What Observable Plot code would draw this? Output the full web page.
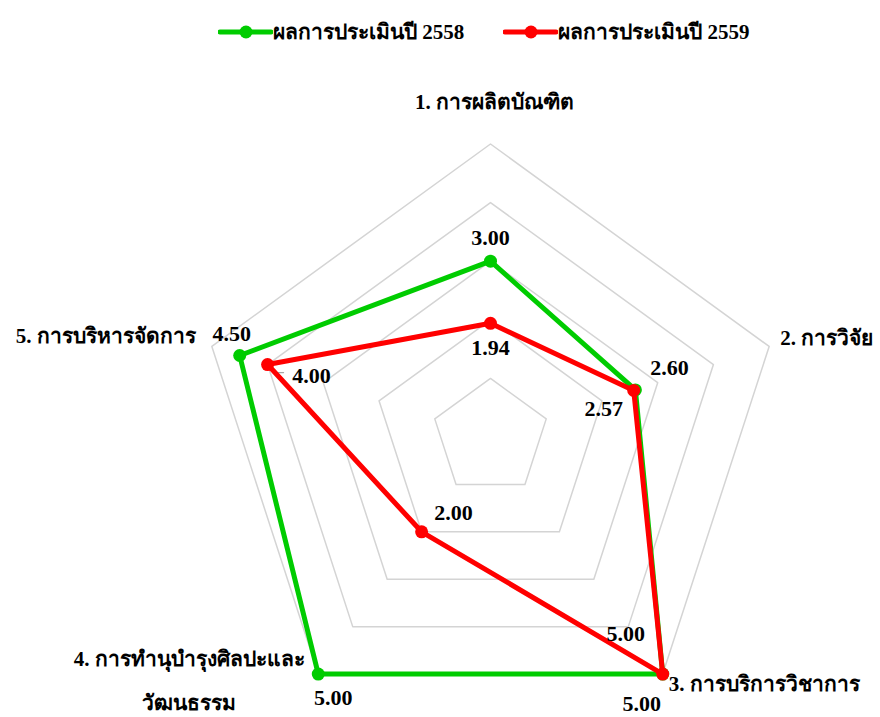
<!DOCTYPE html>
<html><head><meta charset="utf-8">
<script src="https://cdn.jsdelivr.net/npm/d3@7"></script>
<script src="https://cdn.jsdelivr.net/npm/@observablehq/plot@0.6"></script>
<style>
body{margin:0;background:#fff;font-family:"Liberation Serif",serif;}
#legend{height:60px;width:880px;box-sizing:border-box;padding-left:218px;padding-top:20px;display:flex;align-items:flex-start;}
.item{display:flex;align-items:center;height:24px;margin-right:39px;}
.item span{font-weight:bold;font-size:21px;line-height:24px;color:#000;}
</style></head><body>
<div id="legend"></div><div id="chart"></div>
<script>
const categories = ["1. การผลิตบัณฑิต", "2. การวิจัย", "3. การบริการวิชาการ", "4. การทำนุบำรุงศิลปะและ\nวัฒนธรรม", "5. การบริหารจัดการ"];
const seriesNames = ["ผลการประเมินปี 2558", "ผลการประเมินปี 2559"];
const values2558 = [3.00, 2.60, 5.00, 5.00, 4.50];
const values2559 = [1.94, 2.57, 5.00, 2.00, 4.00];
const gridLevels = [1, 2, 3, 4, 5];
const colors = ["#00cc00", "#ff0000"];

// label placement (pixel offsets)
const offs2558 = [[0,-23],[34,-22],[-21,30],[15,24],[-8,-22]];
const offs2559 = [[0,25],[-30,18],[-37,-40],[32,-19],[44,11]];

const U = 58.6;            // px per unit
const W = 880, H = 657;
const CX = 490, CY = 376.5;
const ang = i => i * 2 * Math.PI / categories.length;
const px = (r, i) => r * Math.sin(ang(i));
const py = (r, i) => r * Math.cos(ang(i));

// legend
const leg = document.getElementById("legend");
seriesNames.forEach((s, k) => {
  const d = document.createElement("div"); d.className = "item";
  d.innerHTML = `<svg width="55" height="14"><line x1="2" y1="7" x2="53" y2="7" stroke="${colors[k]}" stroke-width="5" stroke-linecap="round"/><circle cx="28" cy="7" r="6.5" fill="${colors[k]}"/></svg><span>${s}</span>`;
  leg.appendChild(d);
});

const grid = gridLevels.flatMap(l => categories.map((c, i) => ({level: l, x: px(l, i), y: py(l, i)})));
const rows = [];
[values2558, values2559].forEach((vals, k) => {
  const offs = k === 0 ? offs2558 : offs2559;
  vals.forEach((v, i) => rows.push({series: seriesNames[k], k, i, v, x: px(v, i), y: py(v, i), dx: offs[i][0], dy: offs[i][1]}));
});
const catRows = categories.map((c, i) => ({c, i, x: px(5, i), y: py(5, i)}));
const catStyle = [
  {dx: 4, dy: -49, anchor: "middle"},
  {dx: 11, dy: -16, anchor: "start"},
  {dx: 6, dy: 3, anchor: "start"},
  {dx: -129, dy: 0, anchor: "middle"},
  {dx: -16, dy: -18, anchor: "end"}
];
const red4 = rows.find(r => r.k === 1 && r.i === 4);
const leader = [
  {x: red4.x + 2/U, y: red4.y - 2/U},
  {x: red4.x + 7/U, y: red4.y - 8/U},
  {x: red4.x + 16/U, y: red4.y - 8/U}
];

const font = {fontFamily: "Liberation Serif, serif", fontWeight: "bold"};
const marks = [
  Plot.line(grid, {x: "x", y: "y", z: "level", curve: "linear-closed", stroke: "#d4d4d4", strokeWidth: 1.5}),
  Plot.line(leader, {x: "x", y: "y", stroke: "#a6a6a6", strokeWidth: 1.2})
];
[0, 1].forEach(k => {
  const d = rows.filter(r => r.k === k);
  marks.push(Plot.line(d, {x: "x", y: "y", curve: "linear-closed", stroke: colors[k], strokeWidth: 5, strokeLinejoin: "round"}));
  marks.push(Plot.dot(d, {x: "x", y: "y", r: 6.5, fill: colors[k], stroke: "none"}));
});
rows.forEach(r => {
  marks.push(Plot.text([r], {x: "x", y: "y", text: d => d.v.toFixed(2), dx: r.dx, dy: r.dy, fontSize: 22, fill: "#000", ...font}));
});
catRows.forEach((r, i) => {
  const s = catStyle[i];
  marks.push(Plot.text([r], {x: "x", y: "y", text: "c", dx: s.dx, dy: s.dy, textAnchor: s.anchor, lineAnchor: "middle", lineHeight: 2.1, fontSize: 21, fill: "#000", ...font}));
});

const chart = Plot.plot({
  width: W, height: H,
  margin: 0,
  x: {domain: [-CX / U, (W - CX) / U], range: [0, W], axis: null},
  y: {domain: [-(H - CY) / U, CY / U], range: [H, 0], axis: null},
  marks
});
document.getElementById("chart").appendChild(chart);
</script></body></html>
